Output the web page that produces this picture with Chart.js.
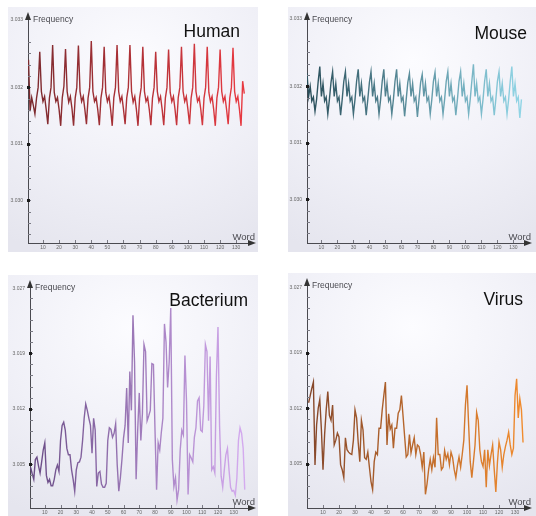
<!DOCTYPE html>
<html><head><meta charset="utf-8">
<script src="https://cdn.jsdelivr.net/npm/chart.js@4.4.1/dist/chart.umd.min.js"></script>
<style>
html,body{margin:0;padding:0;background:#fff;width:536px;height:516px;overflow:hidden;}
.panel{position:absolute;background:radial-gradient(ellipse 95% 85% at 50% 22%, #fcfcff 0%, #f0f0f7 55%, #e5e5ee 100%);}
canvas{position:absolute;}
</style></head><body>
<div class="panel" style="left:8px;top:7px;width:250px;height:245px"></div>
<div class="panel" style="left:288px;top:7px;width:248px;height:245px"></div>
<div class="panel" style="left:8px;top:275px;width:250px;height:241px"></div>
<div class="panel" style="left:288px;top:273px;width:248px;height:243px"></div>
<canvas id="c1" width="250" height="246" style="left:8px;top:7px"></canvas>
<canvas id="c2" width="248" height="246" style="left:288px;top:7px"></canvas>
<canvas id="c3" width="250" height="241" style="left:8px;top:275px"></canvas>
<canvas id="c4" width="248" height="243" style="left:288px;top:273px"></canvas>
<script>
// ---- data ----
const seriesNames = ['Human', 'Mouse', 'Bacterium', 'Virus'];
const xTicks = [10, 20, 30, 40, 50, 60, 70, 80, 90, 100, 110, 120, 130];
const yTicksTop = [3.030, 3.031, 3.032, 3.0332];
const yLabelsTop = ['3.030', '3.031', '3.032', '3.033'];
const yTicksBottom = [3.005, 3.012, 3.019, 3.0272];
const yLabelsBottom = ['3.005', '3.012', '3.019', '3.027'];

const human = [
 3.03249,3.03158,3.03182,3.03168,3.03153,3.03181,3.03200,3.03263,
 3.03193,3.03175,3.03184,3.03161,3.03135,3.03181,3.03200,3.03275,
 3.03191,3.03175,3.03182,3.03161,3.03132,3.03182,3.03202,3.03268,
 3.03193,3.03174,3.03184,3.03163,3.03132,3.03181,3.03200,3.03274,
 3.03193,3.03175,3.03184,3.03161,3.03135,3.03181,3.03200,3.03282,
 3.03193,3.03175,3.03182,3.03161,3.03133,3.03181,3.03200,3.03272,
 3.03191,3.03175,3.03184,3.03161,3.03132,3.03182,3.03200,3.03275,
 3.03193,3.03175,3.03184,3.03161,3.03135,3.03181,3.03200,3.03275,
 3.03193,3.03174,3.03184,3.03161,3.03132,3.03181,3.03200,3.03272,
 3.03193,3.03175,3.03182,3.03161,3.03133,3.03181,3.03200,3.03263,
 3.03193,3.03175,3.03184,3.03161,3.03133,3.03181,3.03200,3.03267,
 3.03191,3.03175,3.03184,3.03161,3.03133,3.03182,3.03200,3.03272,
 3.03193,3.03175,3.03184,3.03161,3.03135,3.03181,3.03200,3.03277,
 3.03193,3.03175,3.03182,3.03161,3.03133,3.03181,3.03200,3.03272,
 3.03191,3.03175,3.03184,3.03161,3.03132,3.03181,3.03200,3.03267,
 3.03193,3.03175,3.03184,3.03161,3.03135,3.03181,3.03200,3.03270,
 3.03193,3.03175,3.03184,3.03161,3.03132,3.03211,3.03189
];
const mouse = [
 3.03223,3.03182,3.03200,3.03174,3.03181,3.03156,3.03177,3.03209,3.03235,
 3.03182,3.03205,3.03174,3.03181,3.03151,3.03177,3.03207,3.03226,
 3.03182,3.03205,3.03174,3.03181,3.03149,3.03177,3.03209,3.03226,
 3.03182,3.03205,3.03174,3.03181,3.03151,3.03177,3.03209,3.03230,
 3.03182,3.03205,3.03174,3.03181,3.03149,3.03177,3.03207,3.03226,
 3.03182,3.03205,3.03174,3.03181,3.03151,3.03177,3.03209,3.03230,
 3.03182,3.03205,3.03174,3.03181,3.03151,3.03177,3.03209,3.03230,
 3.03182,3.03205,3.03174,3.03181,3.03147,3.03177,3.03207,3.03223,
 3.03182,3.03205,3.03174,3.03181,3.03146,3.03177,3.03207,3.03221,
 3.03182,3.03205,3.03174,3.03181,3.03151,3.03177,3.03209,3.03225,
 3.03182,3.03205,3.03174,3.03181,3.03151,3.03177,3.03209,3.03226,
 3.03182,3.03205,3.03174,3.03181,3.03149,3.03177,3.03209,3.03226,
 3.03182,3.03205,3.03174,3.03181,3.03151,3.03177,3.03209,3.03239,
 3.03182,3.03205,3.03174,3.03181,3.03151,3.03177,3.03209,3.03230,
 3.03182,3.03205,3.03174,3.03181,3.03149,3.03177,3.03209,3.03226,
 3.03182,3.03205,3.03174,3.03181,3.03151,3.03177,3.03209,3.03235,
 3.03182,3.03205,3.03174,3.03181,3.03144,3.03177
];
const bacterium = [
 3.0046,3.0038,3.0031,3.0056,3.0059,3.0048,3.0039,3.0053,3.0068,3.0077,
 3.0036,3.0027,3.0031,3.0023,3.0023,3.0031,3.0043,3.0049,3.0041,3.0080,
 3.0099,3.0103,3.0093,3.0070,3.0062,3.0062,3.0043,3.0031,3.0016,3.0043,
 3.0052,3.0053,3.0059,3.0080,3.0108,3.0126,3.0118,3.0108,3.0099,3.0064,
 3.0108,3.0093,3.0022,3.0039,3.0041,3.0025,3.0021,3.0021,3.0026,3.0080,
 3.0096,3.0094,3.0084,3.0089,3.0101,3.0049,3.0016,3.0033,3.0056,3.0083,
 3.0099,3.0146,3.0077,3.0167,3.0118,3.0238,3.0179,3.0031,3.0093,3.0140,
 3.0080,3.0114,3.0201,3.0192,3.0105,3.0111,3.0118,3.0177,3.0176,3.0093,
 3.0018,3.0077,3.0068,3.0090,3.0108,3.0227,3.0204,3.0147,3.0179,3.0247,
 3.0056,3.0022,3.0033,3.0005,3.0018,3.0068,3.0093,3.0087,3.0187,3.0130,
 3.0012,3.0062,3.0058,3.0053,3.0084,3.0096,3.0130,3.0134,3.0093,3.0091,
 3.0124,3.0201,3.0192,3.0105,3.0186,3.0043,3.0047,3.0039,3.0161,3.0223,
 3.0099,3.0035,3.0021,3.0043,3.0062,3.0070,3.0043,3.0021,3.0016,3.0017,
 3.0011,3.0033,3.0080,3.0096,3.0089,3.0070,3.0018
];
const virus = [
 3.0127,3.0136,3.0145,3.0153,3.0049,3.0099,3.0120,3.0131,3.0093,3.0043,
 3.0087,3.0118,3.0141,3.0111,3.0105,3.0124,3.0074,3.0080,3.0089,3.0084,
 3.0049,3.0043,3.0033,3.0083,3.0068,3.0065,3.0063,3.0062,3.0080,3.0118,
 3.0108,3.0077,3.0053,3.0105,3.0093,3.0058,3.0056,3.0065,3.0046,3.0028,
 3.0018,3.0053,3.0065,3.0062,3.0095,3.0095,3.0118,3.0136,3.0153,3.0074,
 3.0113,3.0094,3.0099,3.0070,3.0095,3.0095,3.0114,3.0118,3.0136,3.0111,
 3.0085,3.0059,3.0062,3.0087,3.0064,3.0074,3.0083,3.0062,3.0074,3.0072,
 3.0062,3.0046,3.0065,3.0012,3.0025,3.0043,3.0056,3.0043,3.0058,3.0046,
 3.0108,3.0062,3.0062,3.0043,3.0046,3.0067,3.0056,3.0063,3.0049,3.0065,
 3.0058,3.0043,3.0033,3.0048,3.0059,3.0046,3.0062,3.0080,3.0124,3.0149,
 3.0099,3.0053,3.0033,3.0053,3.0074,3.0115,3.0105,3.0068,3.0053,3.0047,
 3.0068,3.0021,3.0068,3.0048,3.0062,3.0074,3.0043,3.0015,3.0052,3.0078,
 3.0068,3.0046,3.0062,3.0072,3.0080,3.0090,3.0074,3.0062,3.0070,3.0136,
 3.0157,3.0108,3.0132,3.0118,3.0077
];

// ---- drawing ----
const FONT = '"Liberation Sans", Arial, Helvetica, sans-serif';

function grad(c0, c1) {
  return (ctx) => {
    const ch = ctx.chart, a = ch.chartArea;
    if (!a) return c0;
    const g = ch.ctx.createLinearGradient(a.left, 0, a.right, 0);
    g.addColorStop(0, c0); g.addColorStop(1, c1);
    return g;
  };
}

const decor = {
  id: 'decor',
  afterDraw(chart, args, o) {
    const c = chart.ctx, a = chart.chartArea, xs = chart.scales.x, ys = chart.scales.y;
    c.save();
    c.strokeStyle = '#7a7a84'; c.lineWidth = 1;
    for (let n = 0; ; n++) {
      const v = o.minorStart + n * o.minorStep;
      if (v > o.minorEnd + 1e-9) break;
      const y = Math.round(ys.getPixelForValue(v)) + 0.5;
      c.beginPath(); c.moveTo(a.left, y); c.lineTo(a.left + 3, y); c.stroke();
    }
    xTicks.forEach(v => {
      const x = Math.round(xs.getPixelForValue(v)) + 0.5;
      c.beginPath(); c.moveTo(x, a.bottom); c.lineTo(x, a.bottom - 3); c.stroke();
    });
    c.fillStyle = '#1a1a1a';
    o.majors.forEach(v => {
      const y = ys.getPixelForValue(v);
      c.fillRect(Math.round(a.left) - 1, Math.round(y) - 1, 3, 3);
    });
    c.fillStyle = '#333';
    c.beginPath(); c.moveTo(a.left, a.top - 3); c.lineTo(a.left - 3, a.top + 5); c.lineTo(a.left + 3, a.top + 5); c.closePath(); c.fill();
    c.beginPath(); c.moveTo(a.right + 4, a.bottom); c.lineTo(a.right - 4, a.bottom - 3); c.lineTo(a.right - 4, a.bottom + 3); c.closePath(); c.fill();
    c.fillStyle = '#4a4a50';
    c.font = '8.5px ' + FONT; c.textAlign = 'left'; c.textBaseline = 'middle';
    c.fillText('Frequency', a.left + 5, a.top + 5);
    c.font = '9.5px ' + FONT; c.textAlign = 'right'; c.textBaseline = 'bottom';
    c.fillText('Word', a.right + 3, a.bottom - 1);
    c.fillStyle = '#111';
    c.font = '17.5px ' + FONT; c.textAlign = 'right'; c.textBaseline = 'alphabetic';
    c.fillText(o.title, a.right - o.titleDx, a.top + o.titleDy);
    c.restore();
  }
};

function makeChart(id, cfg) {
  const pts = cfg.values.map((v, i) => ({ x: i + 1, y: v }));
  return new Chart(document.getElementById(id), {
    type: 'line',
    data: { datasets: [{ label: cfg.title, data: pts, borderColor: grad(cfg.c0, cfg.c1), borderWidth: 1.4, pointRadius: 0, tension: 0, fill: false }] },
    options: {
      responsive: false, animation: false, devicePixelRatio: 1,
      layout: { padding: { left: 0, top: cfg.padTop, right: cfg.padRight, bottom: 0 } },
      plugins: {
        legend: { display: false }, tooltip: { enabled: false }, title: { display: false },
        decor: { title: cfg.title, titleDx: cfg.titleDx, titleDy: cfg.titleDy, majors: cfg.yTicks.slice(0, 3),
                 minorStart: cfg.minorStart, minorStep: cfg.minorStep, minorEnd: cfg.minorEnd }
      },
      scales: {
        x: {
          type: 'linear', min: cfg.xMin, max: cfg.xMax,
          grid: { display: false, drawTicks: false },
          border: { display: true, color: '#4a4a50', width: 1 },
          afterBuildTicks: s => { s.ticks = xTicks.map(v => ({ value: v })); },
          afterFit: s => { s.height = cfg.xH; },
          ticks: { autoSkip: false, maxRotation: 0, minRotation: 0, padding: 2, color: '#666', font: { size: 5, family: FONT },
                   callback: v => String(v) }
        },
        y: {
          type: 'linear', min: cfg.yMin, max: cfg.yMax,
          grid: { display: false, drawTicks: false },
          border: { display: true, color: '#4a4a50', width: 1 },
          afterBuildTicks: s => { s.ticks = cfg.yTicks.map(v => ({ value: v })); },
          afterFit: s => { s.width = cfg.yW; },
          ticks: { padding: 5, color: '#666', font: { size: 5, family: FONT },
                   callback: (v, i) => cfg.yLabels[i] }
        }
      }
    },
    plugins: [decor]
  });
}

makeChart('c1', { title: seriesNames[0], values: human, c0: '#7a2a2e', c1: '#ec3a42',
  padTop: 6, padRight: 6, yW: 20, xH: 10, xMin: 0.7, xMax: 139.8, yMin: 3.029246, yMax: 3.033281,
  yTicks: yTicksTop, yLabels: yLabelsTop, minorStart: 3.0294, minorStep: 0.0002, minorEnd: 3.0328, titleDx: 12, titleDy: 22 });
makeChart('c2', { title: seriesNames[1], values: mouse, c0: '#2a4e5a', c1: '#94d9ea',
  padTop: 6, padRight: 8, yW: 19, xH: 10, xMin: 1, xMax: 139.1, yMin: 3.029228, yMax: 3.033263,
  yTicks: yTicksTop, yLabels: yLabelsTop, minorStart: 3.0294, minorStep: 0.0002, minorEnd: 3.0328, titleDx: 1, titleDy: 24 });
makeChart('c3', { title: seriesNames[2], values: bacterium, c0: '#684a84', c1: '#d8aef3',
  padTop: 5, padRight: 6, yW: 22, xH: 7, xMin: 0.6, xMax: 141.6, yMin: 2.999486, yMax: 3.027859,
  yTicks: yTicksBottom, yLabels: yLabelsBottom, minorStart: 3.0008, minorStep: 0.0014, minorEnd: 3.0260, titleDx: 4, titleDy: 23 });
makeChart('c4', { title: seriesNames[3], values: virus, c0: '#84462a', c1: '#f38d2e',
  padTop: 6, padRight: 8, yW: 19, xH: 7, xMin: 0, xMax: 138.1, yMin: 2.999486, yMax: 3.027983,
  yTicks: yTicksBottom, yLabels: yLabelsBottom, minorStart: 3.0008, minorStep: 0.0014, minorEnd: 3.0260, titleDx: 5, titleDy: 24 });
</script>
</body></html>
